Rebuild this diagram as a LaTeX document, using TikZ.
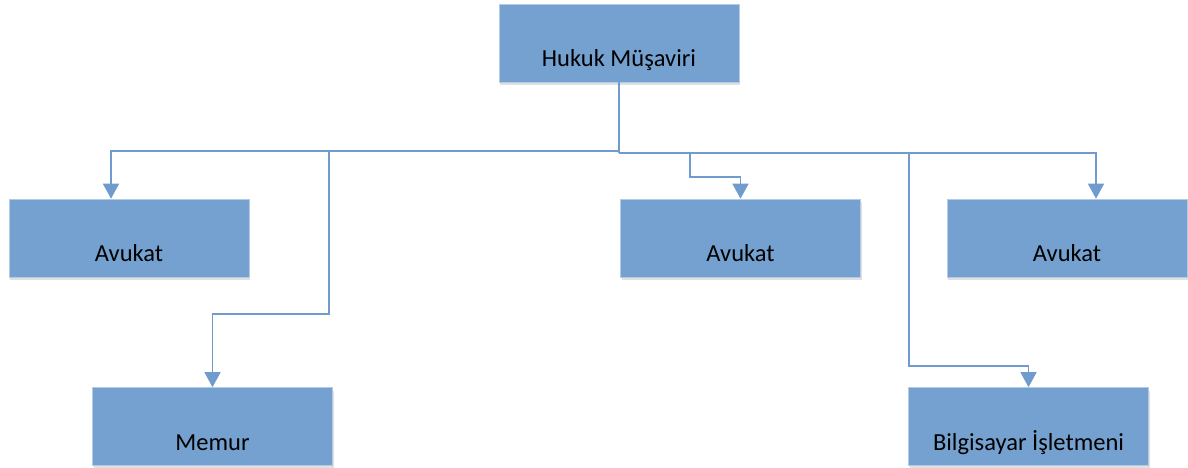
\documentclass[tikz,border=0pt]{standalone}
\usepackage{fontspec}
\setmainfont{Carlito}
\usetikzlibrary{arrows.meta}
\usetikzlibrary{positioning}
\usetikzlibrary{calc}
\usetikzlibrary{shadows}
\definecolor{boxblue}{RGB}{116,161,207}
\definecolor{lineblue}{RGB}{112,155,205}
\newcommand{\unitnode}[3]{\node(#1)[unit] at (#2){#3}}

\begin{document}
\begin{tikzpicture}[x=1pt,y=-1pt,
        every node/.style={font=\fontsize{24.5}{28}\selectfont},
        unit/.style={rectangle,minimum width=240pt,minimum height=78pt,
                     inner sep=0pt,text height=47pt,text depth=0pt,
                     fill=boxblue,draw=boxblue!55!white,line width=0.6pt,
                     drop shadow={shadow xshift=1pt,shadow yshift=-3pt,opacity=0.12,fill=black}},
        conn/.style={draw=lineblue,line width=1.5pt},
        tip/.style={conn,-{Triangle[width=16pt,length=15pt]}}
      ]
      \useasboundingbox (0,0) rectangle (1188,468);
      \unitnode{mus}{619,43}{Hukuk Müşaviri};
      \unitnode{av1}{129,238}{Avukat};
      \unitnode{av2}{740.5,238}{Avukat};
      \unitnode{av3}{1067,238}{Avukat};
      \unitnode{mem}{212.5,426.5}{Memur};
      \unitnode{bil}{1028.5,426.5}{Bilgisayar İşletmeni};

      % trunk and the two buses
      \draw[conn] (mus.south) -- ++(0,70.5) coordinate (busR);
      \coordinate (busL) at ($(busR)+(0,-2)$);
      \draw[tip] (busL) -| ([xshift=-18pt]av1.north);
      \draw[tip] (busR) -| ([xshift=29pt]av3.north);

      % branches
      \draw[tip] (busL -| 329,0) -- (329,314) -| (mem.north);
      \draw[tip] (busR -| 690,0) -- (690,177) -| (av2.north);
      \draw[tip] (busR -| 909,0) -- (909,366) -| (bil.north);
\end{tikzpicture}
\end{document}
